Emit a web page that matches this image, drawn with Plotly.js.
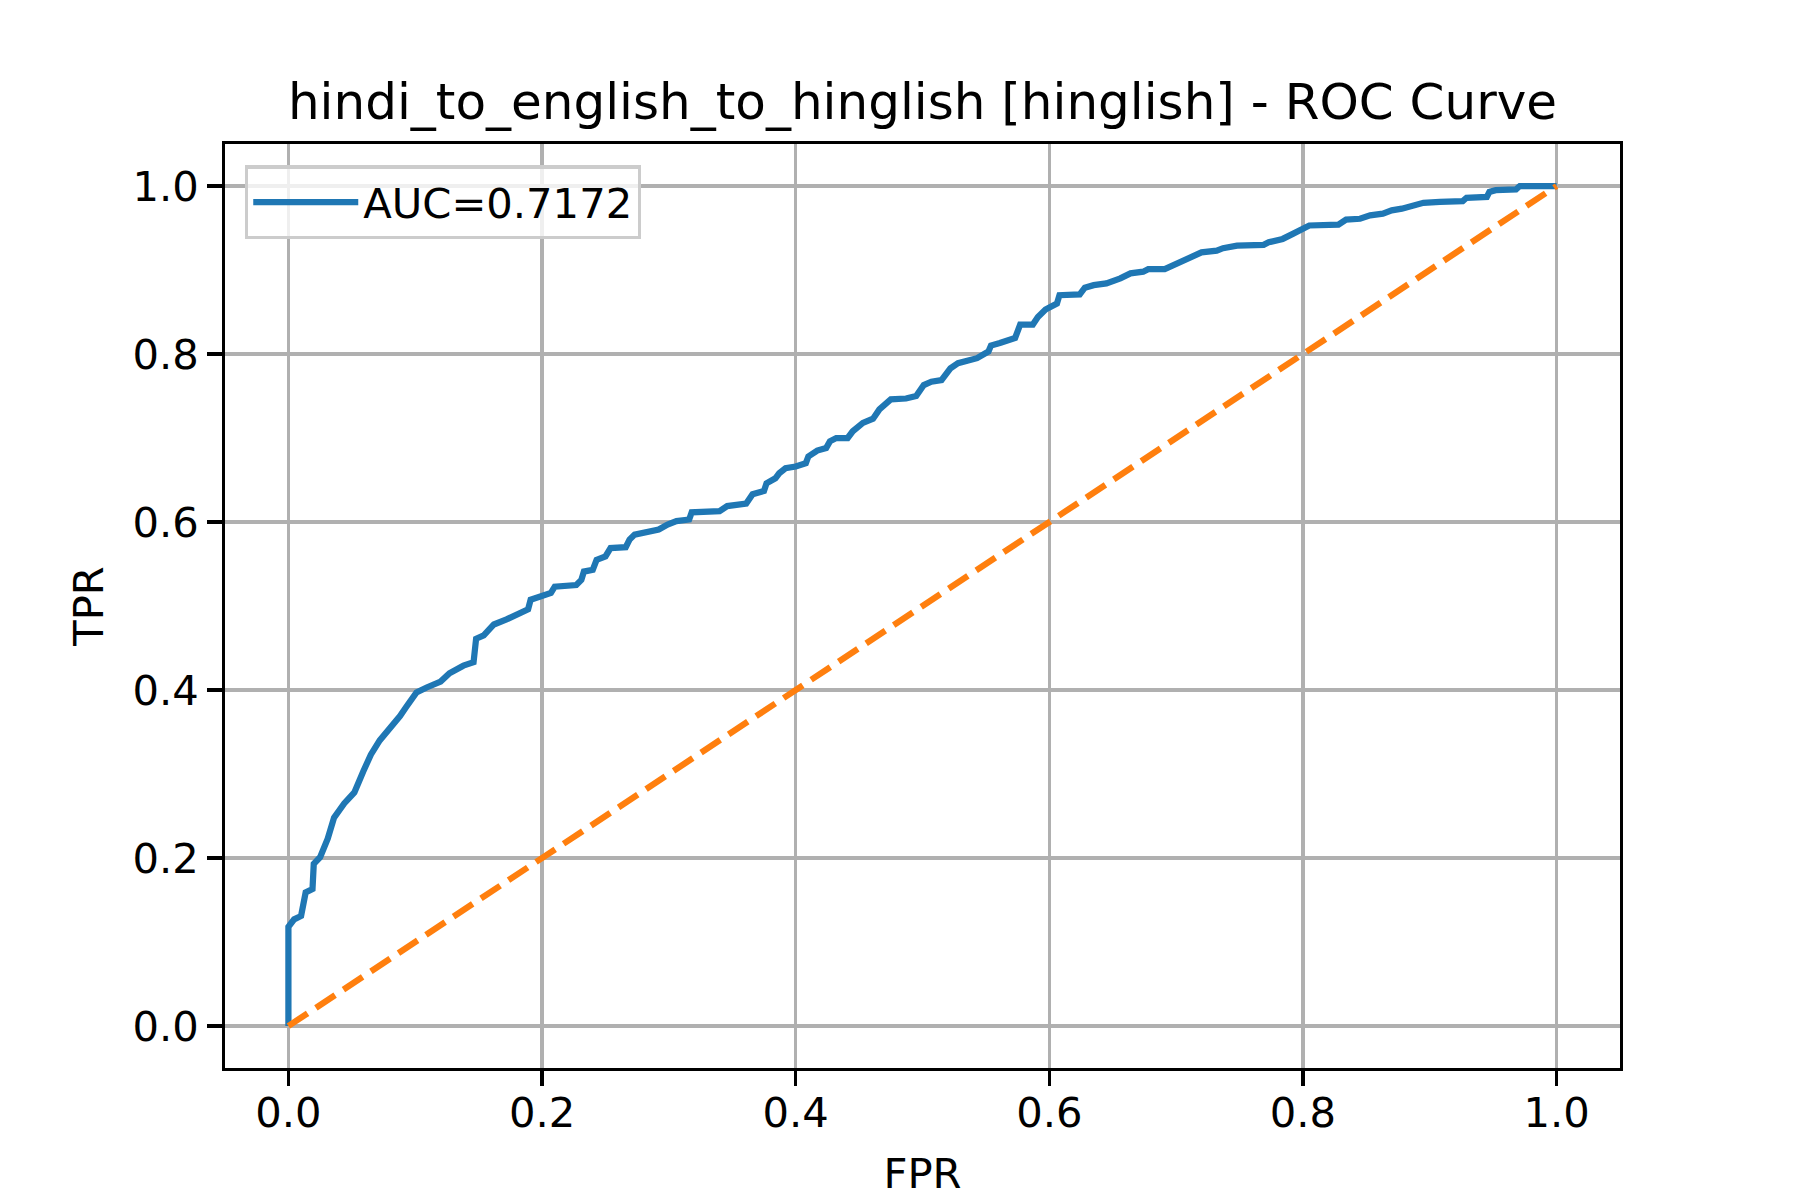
<!DOCTYPE html>
<html>
<head>
<meta charset="utf-8">
<script src="https://cdn.plot.ly/plotly-3.0.1.min.js"></script>
<style>html,body{margin:0;padding:0;background:#fff;}#chart{width:1800px;height:1200px;}</style>
</head>
<body>
<div id="chart"></div>
<script>
const titleText = "hindi_to_english_to_hinglish [hinglish] - ROC Curve";
const legendLabel = "AUC=0.7172";
const tickVals = [0, 0.2, 0.4, 0.6, 0.8, 1.0];
const tickText = ["0.0", "0.2", "0.4", "0.6", "0.8", "1.0"];

const fpr = [0, 0, 0.0045, 0.01, 0.0136, 0.019, 0.02, 0.025, 0.031, 0.036,
  0.044, 0.052, 0.059, 0.065, 0.072, 0.083, 0.088, 0.093, 0.101, 0.109,
  0.12, 0.127, 0.138, 0.146, 0.148, 0.154, 0.162, 0.172, 0.18, 0.189,
  0.191, 0.199, 0.207, 0.210, 0.227, 0.231, 0.233, 0.24, 0.243, 0.25,
  0.254, 0.266, 0.269, 0.273, 0.282, 0.292, 0.299, 0.306, 0.316, 0.318,
  0.34, 0.346, 0.361, 0.366, 0.375, 0.377, 0.384, 0.387, 0.392, 0.4,
  0.408, 0.41, 0.417, 0.424, 0.427, 0.432, 0.441, 0.445, 0.453, 0.461,
  0.466, 0.475, 0.487, 0.495, 0.501, 0.507, 0.515, 0.522, 0.528, 0.543,
  0.552, 0.554, 0.561, 0.573, 0.577, 0.587, 0.591, 0.597, 0.606, 0.608,
  0.624, 0.628, 0.635, 0.645, 0.656, 0.664, 0.674, 0.678, 0.691, 0.698,
  0.706, 0.714, 0.72, 0.732, 0.737, 0.748, 0.769, 0.773, 0.784, 0.792,
  0.799, 0.805, 0.828, 0.834, 0.845, 0.853, 0.863, 0.87, 0.878, 0.887,
  0.895, 0.908, 0.926, 0.929, 0.945, 0.947, 0.952, 0.968, 0.971, 1.0];
const tpr = [0, 0.118, 0.127, 0.131, 0.159, 0.163, 0.193, 0.201, 0.223, 0.248,
  0.265, 0.278, 0.303, 0.323, 0.34, 0.359, 0.369, 0.38, 0.397, 0.403,
  0.41, 0.42, 0.429, 0.433, 0.461, 0.465, 0.478, 0.484, 0.49, 0.496,
  0.5075, 0.5115, 0.5155, 0.523, 0.525, 0.531, 0.541, 0.543, 0.555, 0.559,
  0.569, 0.570, 0.579, 0.585, 0.588, 0.591, 0.597, 0.601, 0.603, 0.6115,
  0.613, 0.619, 0.622, 0.633, 0.637, 0.646, 0.652, 0.658, 0.664, 0.666,
  0.670, 0.678, 0.685, 0.688, 0.696, 0.7, 0.7, 0.708, 0.718, 0.723,
  0.734, 0.746, 0.747, 0.75, 0.763, 0.767, 0.769, 0.783, 0.789, 0.795,
  0.803, 0.810, 0.813, 0.819, 0.835, 0.835, 0.844, 0.853, 0.860, 0.870,
  0.871, 0.879, 0.882, 0.884, 0.890, 0.896, 0.898, 0.901, 0.901, 0.906,
  0.912, 0.916, 0.921, 0.923, 0.926, 0.929, 0.93, 0.933, 0.937, 0.943,
  0.949, 0.953, 0.954, 0.96, 0.961, 0.965, 0.967, 0.971, 0.973, 0.977,
  0.98, 0.981, 0.982, 0.986, 0.987, 0.993, 0.995, 0.996, 1.0, 1.0];
const diagX = [0, 1];
const diagY = [0, 1];

const FONT = "DejaVu Sans, sans-serif";
const lw = 3.33;

const traces = [
  {x: fpr, y: tpr, type: "scatter", mode: "lines", name: legendLabel,
   line: {color: "#1f77b4", width: 6.25}},
  {x: diagX, y: diagY, type: "scatter", mode: "lines", showlegend: false,
   line: {color: "#ff7f0e", width: 6.25, dash: "23px,10px"}}
];

const axisCommon = {
  range: [-0.05, 1.05], tickvals: tickVals, ticktext: tickText,
  ticks: "outside", ticklen: 14.6, tickwidth: lw, tickcolor: "#000",
  showline: true, linecolor: "#000", linewidth: lw, mirror: true,
  showgrid: true, gridcolor: "#b0b0b0", gridwidth: lw, zeroline: false,
  tickfont: {family: FONT, size: 41.7, color: "#000"}
};

const layout = {
  width: 1800, height: 1200,
  paper_bgcolor: "#fff", plot_bgcolor: "#fff",
  margin: {l: 225, r: 180, t: 144, b: 132, pad: 0},
  font: {family: FONT, color: "#000"},
  title: {text: titleText, font: {family: FONT, size: 50, color: "#000"},
          x: 0.5, xref: "paper", xanchor: "center", y: 1, yref: "paper", yanchor: "bottom",
          pad: {b: 25}},
  xaxis: Object.assign({}, axisCommon, {
    ticklabelstandoff: -9,
    title: {text: "FPR", font: {family: FONT, size: 41.7, color: "#000"}, standoff: 24}
  }),
  yaxis: Object.assign({}, axisCommon, {
    title: {text: "TPR", font: {family: FONT, size: 41.7, color: "#000"}, standoff: 16}
  }),
  showlegend: true,
  legend: {x: 0.0143, y: 0.977, xanchor: "left", yanchor: "top",
           bgcolor: "rgba(255,255,255,0.8)", bordercolor: "#cccccc", borderwidth: 3.3,
           font: {family: FONT, size: 41.7, color: "#000"}, itemwidth: 105,
           tracegroupgap: 0}
};

Plotly.newPlot("chart", traces, layout, {staticPlot: true, displayModeBar: false});
</script>
</body>
</html>
